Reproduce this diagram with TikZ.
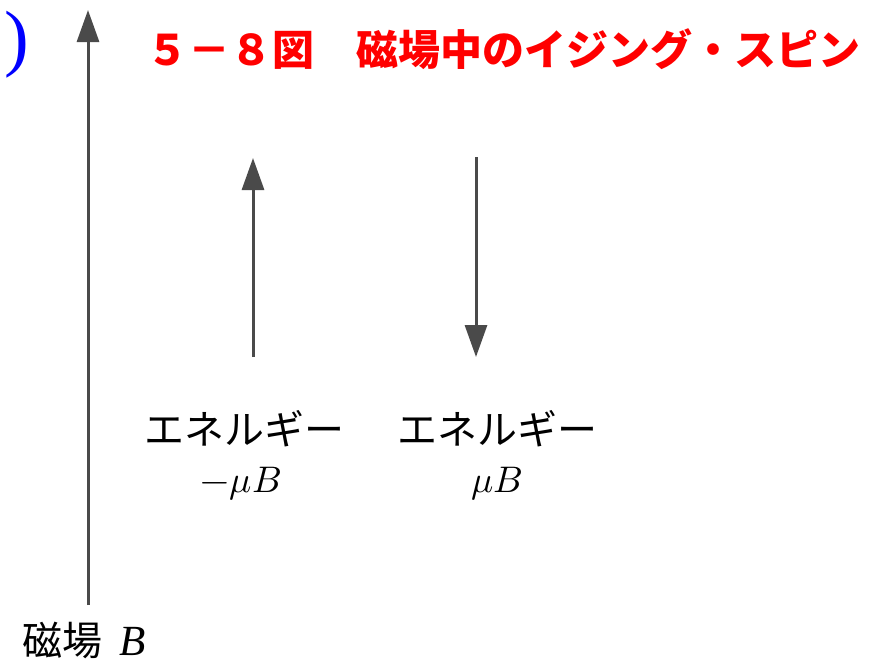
\documentclass[tikz,border=0pt]{standalone}
\usepackage{fontspec}
\usepackage{unicode-math}
\setmainfont{Liberation Serif}
\setmathfont{Latin Modern Math}
\newfontfamily\jp{Noto Sans CJK JP}
\usetikzlibrary{arrows.meta}
\definecolor{arrowgray}{HTML}{4A4A4A}
\definecolor{titlered}{HTML}{FF0000}
\tikzset{
  spinarrow/.style={draw=arrowgray, line width=3pt,
    -{Triangle[length=32pt,width=22pt]}, color=arrowgray},
  plain/.style={inner sep=0pt, outer sep=0pt},
  jplabel/.style={plain, font=\jp\fontsize{40pt}{44pt}\selectfont, text=black},
  mathlabel/.style={plain, font=\fontsize{37pt}{40pt}\selectfont, text=black},
}
\begin{document}
\begin{tikzpicture}[x=1pt,y=-1pt]
\useasboundingbox (0,0) rectangle (869,665);
% blue parenthesis (cut at left edge)
\node[plain, anchor=base east, text=blue, font=\fontsize{74pt}{76pt}\selectfont] (paren) at (29,62) {)};
% title
\node[plain, anchor=west, text=titlered, font=\jp\bfseries\fontsize{42pt}{46pt}\selectfont] (title) at (146,49) {５－８図　磁場中のイジング・スピン};
% big field arrow
\coordinate (Bbot) at (88,605);
\coordinate (Btop) at (88,10);
\draw[spinarrow] (Bbot) -- (Btop);
% spin up
\coordinate (upbot) at (253,357);
\coordinate (uptop) at (253,158);
\draw[spinarrow] (upbot) -- (uptop);
% spin down
\coordinate (dntop) at (476,157);
\coordinate (dnbot) at (476,357);
\draw[spinarrow] (dntop) -- (dnbot);
% labels
\node[jplabel] (e1) at (244,429) {エネルギー};
\node[jplabel] (e2) at (497,429) {エネルギー};
\node[mathlabel, anchor=base] (m1) at (241,492) {$-\mu B$};
\node[mathlabel, anchor=base] (m2) at (497,492) {$\mu B$};
% field label
\node[plain, anchor=base west] (field) at (22,655) {{\jp\fontsize{40pt}{44pt}\selectfont 磁場}\hspace{17pt}{\fontsize{43pt}{44pt}\selectfont\itshape B}};
\end{tikzpicture}
\end{document}
